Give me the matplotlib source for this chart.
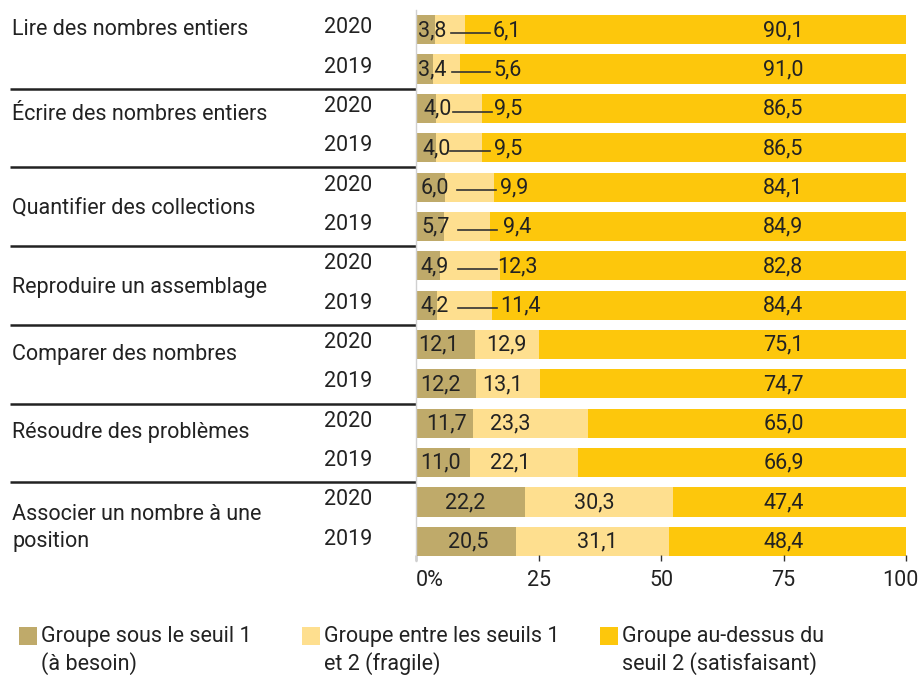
import matplotlib
matplotlib.use("Agg")
import matplotlib.pyplot as plt
from matplotlib.patches import Rectangle
from matplotlib.transforms import blended_transform_factory
import numpy as np

plt.rcParams['font.family'] = ['Roboto', 'DejaVu Sans']

# ---- data ----
categories = ["Lire des nombres entiers", "Écrire des nombres entiers",
              "Quantifier des collections", "Reproduire un assemblage",
              "Comparer des nombres", "Résoudre des problèmes",
              "Associer un nombre à une\nposition"]
years = ["2020", "2019"]
below_seuil1 = [3.8, 3.4, 4.0, 4.0, 6.0, 5.7, 4.9, 4.2, 12.1, 12.2, 11.7, 11.0, 22.2, 20.5]
between_seuils = [6.1, 5.6, 9.5, 9.5, 9.9, 9.4, 12.3, 11.4, 12.9, 13.1, 23.3, 22.1, 30.3, 31.1]
above_seuil2 = [90.1, 91.0, 86.5, 86.5, 84.1, 84.9, 82.8, 84.4, 75.1, 74.7, 65.0, 66.9, 47.4, 48.4]
series_names = ["Groupe sous le seuil 1\n(à besoin)",
                "Groupe entre les seuils 1\net 2 (fragile)",
                "Groupe au-dessus du\nseuil 2 (satisfaisant)"]
xticks = [0, 25, 50, 75, 100]
xtick_labels = ["0%", "25", "50", "75", "100"]

# ---- label placement (positions, not data) ----
lab1_x = [3.4, 3.3, 4.5, 4.3, 3.9, 3.9, 3.9, 3.9, 4.5, 4.9, 6.3, 4.9, 10.0, 10.6]
lab2_x = [18.6, 18.7, 18.8, 18.8, 20.0, 20.6, 20.6, 21.4, 18.4, 17.6, 19.2, 19.2, 36.3, 37.1]
lab3_x = 75.0
leader = [(7.1, 15.1), (7.3, 15.1), (7.6, 15.5), (6.9, 15.1), (8.4, 16.3),
          (8.6, 16.5), (8.6, 16.5), (8.6, 16.5)]
cat_y = [0.0, 2.16, 4.52, 6.56, 8.26, 10.24, 12.66]
tick_lab_x = [0, 25, 50, 75, 98.8]
tick_lab_ha = ["left", "center", "center", "center", "center"]

colors = ["#BFAA6A", "#FEDF8F", "#FDC70C"]
txt = "#222222"
FS = 15.5

W, H = 922, 675
fig = plt.figure(figsize=(W / 100, H / 100), dpi=100)
ax = fig.add_axes([416 / W, 1 - 561 / H, 490 / W, (561 - 10) / H])

n = len(below_seuil1)
y = np.arange(n)
b1 = np.array(below_seuil1)
b2 = np.array(between_seuils)
b3 = np.array(above_seuil2)
bh = 0.74
ax.barh(y, b1, height=bh, color=colors[0], left=0)
ax.barh(y, b2, height=bh, color=colors[1], left=b1)
ax.barh(y, b3, height=bh, color=colors[2], left=b1 + b2)

ax.set_ylim(13.5, -0.5)
ax.set_xlim(0, 100)

fmt = lambda v: f"{v:.1f}".replace(".", ",")
for i in range(n):
    ax.text(lab1_x[i], y[i] + 0.02, fmt(b1[i]), ha="center", va="center", fontsize=FS, color=txt)
    ax.text(lab2_x[i], y[i] + 0.02, fmt(b2[i]), ha="center", va="center", fontsize=FS, color=txt)
    ax.text(lab3_x, y[i] + 0.02, fmt(b3[i]), ha="center", va="center", fontsize=FS, color=txt)
for i, (x0, x1) in enumerate(leader):
    ax.plot([x0, x1], [y[i] + 0.08, y[i] + 0.08], color="#333333", lw=1.2)

# axes styling
for s in ["top", "right", "bottom"]:
    ax.spines[s].set_visible(False)
ax.spines["left"].set_color("#d0d0d0")
ax.spines["left"].set_linewidth(1.0)
ax.set_yticks([])
ax.set_xticks(xticks)
ax.set_xticklabels([])
ax.tick_params(axis="x", direction="in", length=4, width=1, color="#333333")
tb = blended_transform_factory(ax.transData, fig.transFigure)
for tx, tl, ha in zip(tick_lab_x, xtick_labels, tick_lab_ha):
    ax.text(tx, 1 - 580 / H, tl, transform=tb, ha=ha, va="center", fontsize=FS, color=txt)

# year labels, category labels and separators
tf = blended_transform_factory(fig.transFigure, ax.transData)
for i in range(n):
    ax.text(372 / W, y[i] - 0.05, years[i % 2], transform=tf, ha="right", va="center",
            fontsize=FS, color=txt)
for c, cy in zip(categories, cat_y):
    ax.text(12 / W, cy, c, transform=tf, ha="left", va="center", fontsize=FS,
            color=txt, linespacing=1.35)
for k in range(1, 7):
    ax.plot([10 / W, 416 / W], [2 * k - 0.5, 2 * k - 0.5], transform=tf, color="#222222",
            lw=1.8, clip_on=False, solid_capstyle="butt")

# legend
leg_x = [19, 302, 600]
for lx, col, name in zip(leg_x, colors, series_names):
    fig.add_artist(Rectangle((lx / W, 1 - 645 / H), 18 / W, 18 / H,
                             transform=fig.transFigure, color=col, lw=0))
    fig.text((lx + 22) / W, 1 - 626 / H, name, ha="left", va="top", fontsize=FS,
             color=txt, linespacing=1.3)

fig.savefig("out.png", dpi=100, facecolor="white")
